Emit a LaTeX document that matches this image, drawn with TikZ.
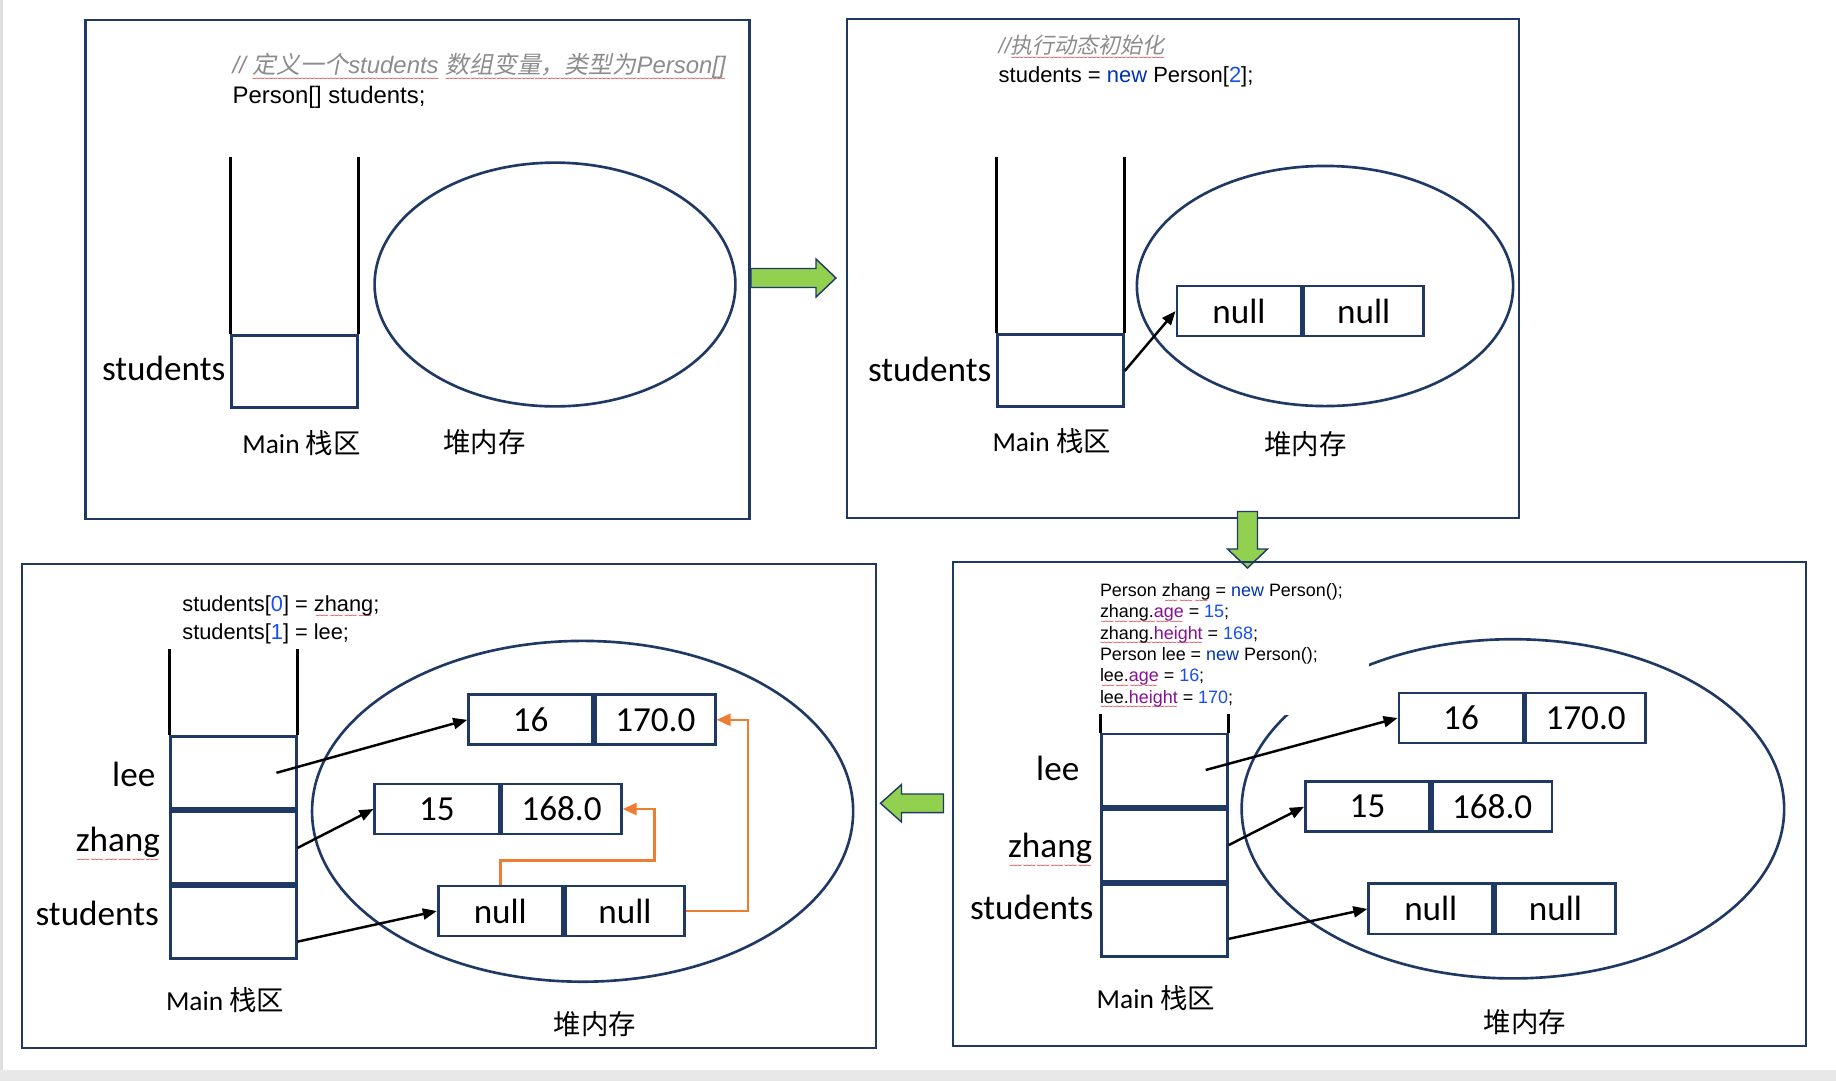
\documentclass[tikz,border=0pt]{standalone}
\usepackage{fontspec}
\usetikzlibrary{arrows.meta,positioning,calc}
\setmainfont{Carlito}
\newfontfamily\codefont{Liberation Sans}
\newfontfamily\cjk{Noto Sans CJK SC}
\newfontfamily\cjkit{Noto Sans CJK SC}[FakeSlant=0.2]
\definecolor{navy}{HTML}{203864}
\definecolor{refline}{HTML}{ED7D31}
\definecolor{stepgreen}{HTML}{92D050}
\definecolor{cmtgray}{HTML}{8C8C8C}
\definecolor{kwblue}{HTML}{0033B3}
\definecolor{litblue}{HTML}{1750EB}
\definecolor{fieldpurple}{HTML}{871094}
\definecolor{spellred}{HTML}{E03030}
\newbox\spellbox
\newcommand\spell[2][1.2pt]{\setbox\spellbox=\hbox{#2}%
  \rlap{\lower#1\hbox to \wd\spellbox{\textcolor{spellred}{\fontsize{3.5}{3.5}\cjk\xleaders\hbox{﹏}\hfil}}}\box\spellbox}
\newcommand\cmlat[1]{{\color{cmtgray}\itshape #1}}
\newcommand\cmcjk[1]{{\color{cmtgray}\cjkit #1}}
\newcommand\kw[1]{{\color{kwblue}#1}}
\newcommand\lit[1]{{\color{litblue}#1}}
\newcommand\fld[1]{{\color{fieldpurple}#1}}
\tikzset{
  panel/.style={draw=navy, line width=0.6pt},
  heap/.style={draw=navy, line width=0.75pt},
  cell/.style={draw=navy, line width=0.8pt, fill=white, minimum height=0.5cm,
    inner sep=0pt, font=\fontsize{10}{12}\selectfont},
  firstcell/.style={cell, minimum width=1.24cm},
  secondcell/.style={cell, minimum width=1.195cm},
  slot/.style={draw=navy, line width=0.85pt, minimum width=1.255cm,
    minimum height=0.72cm, inner sep=0pt},
  wall/.style={line width=0.8pt},
  varname/.style={inner sep=0pt, anchor=base east, font=\fontsize{10}{12}\selectfont},
  area/.style={inner sep=0pt, font=\fontsize{7.8}{9}\selectfont},
  snippet/.style={inner sep=0pt, anchor=base west, align=left},
  ptr/.style={-{Triangle[length=0.14cm, width=0.11cm]}, line width=0.7pt},
  refarr/.style={-{Triangle[length=0.14cm, width=0.12cm]}, line width=0.7pt, draw=refline},
  stepper/.style={fill=stepgreen, draw=navy, line width=0.4pt}
}

\begin{document}
\begin{tikzpicture}[x=0.01cm, y=-0.01cm]
  \useasboundingbox (0,0) rectangle (1836,1081);
  \fill[gray!18] (0,1070) rectangle (1836,1081);
  \fill[gray!25] (0,0) rectangle (3,1070);

  % step 1: only the reference on the stack
  \draw[panel] (85.5,20) rectangle (749.5,519);
  \node[snippet, font=\codefont\fontsize{6.8}{8.35}\selectfont] (code1) at (232,103.3)
    {\cmlat{// }\spell{\cmcjk{定义一个}\cmlat{students}} \spell{\cmcjk{数组变量，类型为}\cmlat{Person[]}}\\
     Person[] students;};
  \node[slot] (stu1) at (294.5,371.7) {};
  \draw[wall] (stu1.north west) -- ++(0,-177.5);
  \draw[wall] (stu1.north east) -- ++(0,-177.5);
  \node[varname] (stu1lbl) at (226,380) {students};
  \node[area, anchor=base west] (main1) at (241.7,453.3) {Main {\cjk 栈区}};
  \draw[heap] (555,284.5) ellipse [x radius=1.803cm, y radius=1.218cm];
  \node[area] (heap1) at (484.3,442.5) {\cjk 堆内存};

  \draw[stepper] (751,268.5) -- (816,268.5) -- (816,259) -- (836,278)
    -- (816,297) -- (816,287.5) -- (751,287.5) -- cycle;

  % step 2: array of two null slots
  \draw[panel] (846.6,18.7) rectangle (1518.7,517.6);
  \node[snippet, font=\codefont\fontsize{6.25}{8.4}\selectfont] (code2) at (998,82.7)
    {\cmlat{//}\spell{\cmcjk{执行动态初始化}}\\
     students = \kw{new} Person[\lit{2}];};
  \node[slot] (stu2) at (1060.5,370.9) {};
  \draw[wall] (stu2.north west) -- ++(0,-176.7);
  \draw[wall] (stu2.north east) -- ++(0,-176.7);
  \node[varname] (stu2lbl) at (992,381.7) {students};
  \node[area, anchor=base west] (main2) at (991.8,451.5) {Main {\cjk 栈区}};
  \draw[heap] (1325,286) ellipse [x radius=1.88cm, y radius=1.2cm];
  \node[firstcell] (arr2a) at (1239,311) {null};
  \node[secondcell, right=0pt of arr2a] (arr2b) {null};
  \draw[ptr] (stu2.east) -- (arr2a.west);
  \node[area] (heap2) at (1305.5,444) {\cjk 堆内存};

  \draw[stepper] (1237.5,511.5) -- (1257.5,511.5) -- (1257.5,549) -- (1267.5,549)
    -- (1247.5,568) -- (1227.5,549) -- (1237.5,549) -- cycle;

  % step 3: two Person objects
  \draw[panel] (952.6,561.7) rectangle (1805.7,1046);
  \draw[heap] (1512.9,808.8) ellipse [x radius=2.711cm, y radius=1.695cm];
  \fill[white] (1095,575) rectangle (1369,715);
  \node[snippet, font=\codefont\fontsize{5.1}{6.05}\selectfont] (code4) at (1099.3,703)
    {Person \spell[1pt]{zhang} = \kw{new} Person();\\
     \spell[1pt]{zhang.\fld{age}} = \lit{15};\\
     \spell[1pt]{zhang.\fld{height}} = \lit{168};\\
     Person lee = \kw{new} Person();\\
     \spell[1pt]{lee.\fld{age}} = \lit{16};\\
     \spell[1pt]{lee.\fld{height}} = \lit{170};};
  \node[slot] (lee4) at (1164.5,770) {};
  \node[slot, below=0pt of lee4] (zhang4) {};
  \node[slot, below=0pt of zhang4] (stu4) {};
  \draw[wall] (lee4.north west) -- ++(0,-19);
  \draw[wall] (lee4.north east) -- ++(0,-19);
  \node[varname] (lee4lbl) at (1080,780) {lee};
  \node[varname] (zhang4lbl) at (1093,857.7) {\spell[2.2pt]{zhang}};
  \node[varname] (stu4lbl) at (1094,919.3) {students};
  \node[area, anchor=base west] (main4) at (1096,1008.3) {Main {\cjk 栈区}};
  \node[firstcell] (top4a) at (1461,718) {16};
  \node[secondcell, right=0pt of top4a] (top4b) {170.0};
  \node[firstcell] (mid4a) at (1367.5,806.7) {15};
  \node[secondcell, right=0pt of mid4a] (mid4b) {168.0};
  \node[firstcell] (nul4a) at (1430.8,908.9) {null};
  \node[secondcell, right=0pt of nul4a] (nul4b) {null};
  \draw[ptr] ($(lee4.center)!0.64!(lee4.east)$) -- (top4a.west);
  \draw[ptr] (zhang4.east) -- (mid4a.west);
  \draw[ptr] ($(stu4.east)!0.5!(stu4.south east)$) -- (nul4a.west);
  \node[area] (heap4) at (1525,1022) {\cjk 堆内存};

  \draw[stepper] (943.5,794) -- (901.5,794) -- (901.5,784.5) -- (880.5,803.3)
    -- (901.5,822) -- (901.5,812.6) -- (943.5,812.6) -- cycle;

  % step 4: array slots point to the objects
  \draw[panel] (21.8,564) rectangle (876,1047.7);
  \node[snippet, font=\codefont\fontsize{6.2}{8.05}\selectfont] (code3) at (181.7,639.3)
    {students[\lit{0}] = \spell{zhang};\\
     students[\lit{1}] = lee;};
  \node[slot] (lee3) at (233.4,772.8) {};
  \node[slot, below=0pt of lee3] (zhang3) {};
  \node[slot, below=0pt of zhang3] (stu3) {};
  \draw[wall] (lee3.north west) -- ++(0,-86);
  \draw[wall] (lee3.north east) -- ++(0,-86);
  \node[varname] (lee3lbl) at (156,786.7) {lee};
  \node[varname] (zhang3lbl) at (160.7,851.7) {\spell[2.2pt]{zhang}};
  \node[varname] (stu3lbl) at (159.6,925.7) {students};
  \node[area, anchor=base west] (main3) at (165.3,1010.7) {Main {\cjk 栈区}};
  \draw[heap] (582.6,811.3) ellipse [x radius=2.704cm, y radius=1.703cm];
  \node[firstcell] (top3a) at (530.7,719.8) {16};
  \node[secondcell, right=0pt of top3a] (top3b) {170.0};
  \node[firstcell] (mid3a) at (436.9,809) {15};
  \node[secondcell, right=0pt of mid3a] (mid3b) {168.0};
  \node[firstcell] (nul3a) at (500.3,911) {null};
  \node[secondcell, right=0pt of nul3a] (nul3b) {null};
  \draw[ptr] ($(lee3.center)!0.67!(lee3.east)$) -- (top3a.west);
  \draw[ptr] (zhang3.east) -- (mid3a.west);
  \draw[ptr] ($(stu3.east)!0.5!(stu3.south east)$) -- (nul3a.west);
  \coordinate (bend3a) at (654.4,860.7);
  \coordinate (bend3b) at (748,719.8);
  \draw[refarr] (nul3a.north) |- (bend3a) |- (mid3b.east);
  \draw[refarr] (nul3b.east) -| (bend3b) -- (top3b.east);
  \node[area] (heap3) at (595,1024.5) {\cjk 堆内存};
\end{tikzpicture}
\end{document}
